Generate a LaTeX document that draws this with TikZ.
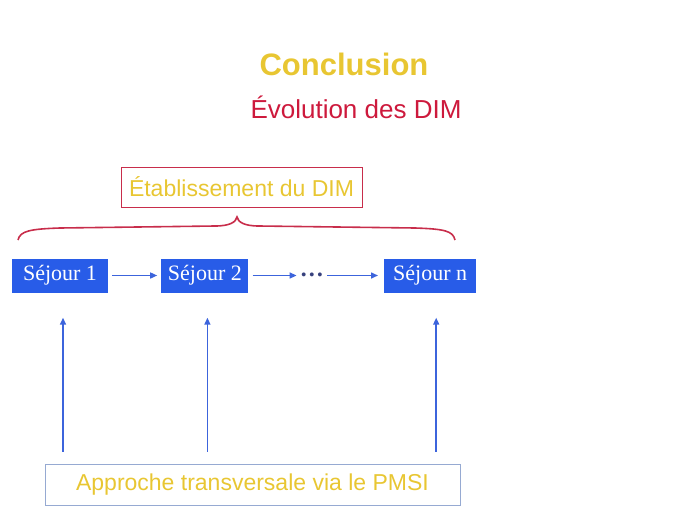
\documentclass[tikz,border=0pt]{standalone}
\usepackage{fontspec}
\setmainfont{Liberation Serif}
\setsansfont{Liberation Sans}
\usetikzlibrary{arrows.meta, positioning}
\definecolor{concyellow}{RGB}{232,198,50}
\definecolor{evored}{RGB}{205,25,60}
\definecolor{bracered}{RGB}{200,45,75}
\definecolor{sejblue}{RGB}{40,92,232}
\definecolor{arrblue}{RGB}{60,100,220}
\definecolor{dotblue}{RGB}{55,65,125}
\definecolor{pmsiframe}{RGB}{150,170,210}

\begin{document}
\begin{tikzpicture}[x=1pt, y=-1pt, font=\sffamily,
    sej/.style={fill=sejblue, text=white, inner sep=0pt, minimum height=34pt,
      font=\rmfamily\fontsize{22}{24}\selectfont},
    arr/.style={draw=arrblue, line width=1.5pt, -{Triangle[length=7pt, width=6pt]}},
    cadre/.style={draw, line width=0.9pt, inner sep=0pt, minimum height=40pt,
      text=concyellow, font=\sffamily\fontsize{23}{26}\selectfont}]
    \useasboundingbox (0,0) rectangle (689,517);
    % titres
    \node[text=concyellow, font=\sffamily\bfseries\fontsize{31}{34}\selectfont] (concl) at (344,64) {Conclusion};
    \node[text=evored, font=\sffamily\fontsize{26}{30}\selectfont] (evol) at (356,107) {Évolution des DIM};
    % etablissement + accolade
    \node[cadre, draw=bracered, minimum width=241pt] (etab) at (241.5,187) {Établissement du DIM};
    \draw[bracered, line width=1.6pt] (18,240) .. controls (20,231) and (30,229) .. (60,228)
      -- (215,226) .. controls (230,226) and (236,222) .. (237,217)
      .. controls (238,222) and (244,226) .. (259,226)
      -- (415,228) .. controls (445,229) and (453,231) .. (455,240);
    % sejours
    \node[sej, minimum width=96pt] (s1) at (60,275.5) {Séjour 1};
    \node[sej, minimum width=87pt, right=53pt of s1] (s2) {Séjour 2};
    \node[text=dotblue, font=\rmfamily\bfseries\fontsize{24}{26}\selectfont, inner sep=0pt, right=51pt of s2.east, anchor=west, yshift=1pt] (dots) {\dots};
    \node[sej, minimum width=92pt, anchor=west] (sn) at (384,275.5) {Séjour n};
    \draw[arr, shorten <=4pt, shorten >=4pt] (s1) -- (s2);
    \draw[arr, shorten <=4pt, shorten >=3pt] (s2) -- (s2 -| dots.west);
    \draw[arr, shorten <=3pt, shorten >=6pt] (s2 -| dots.east) -- (sn);
    % approche PMSI
    \node[cadre, draw=pmsiframe, minimum width=415pt, minimum height=41pt] (pmsi) at (252.5,484.5) {Approche transversale via le PMSI};
    \foreach \s/\dx in {s1/3, s2/2.5, sn/6}
      \draw[arr, shorten <=12pt, shorten >=25pt] ([xshift=\dx pt]pmsi.north -| \s) -- ([xshift=\dx pt]\s.south);
  \end{tikzpicture}
\end{document}
